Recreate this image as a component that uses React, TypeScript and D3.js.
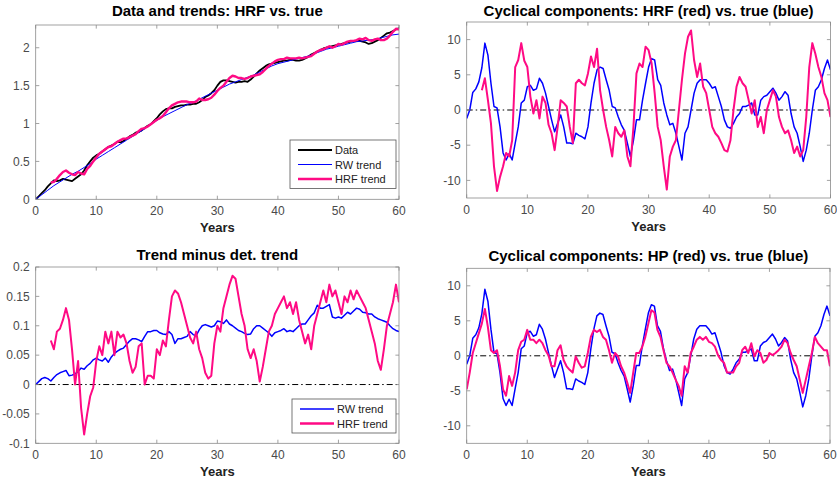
import React from "react";
import * as d3 from "d3";

// ---- data (years on the x axis) ----
const yearTicks = [0, 10, 20, 30, 40, 50, 60];

// observed data, 0..60 every half year
const dataSeries = [
  0, 0.04, 0.08, 0.12, 0.17, 0.21, 0.25, 0.24, 0.25, 0.27,
  0.26, 0.25, 0.24, 0.27, 0.3, 0.33, 0.38, 0.45, 0.5, 0.55,
  0.58, 0.6, 0.63, 0.66, 0.69, 0.71, 0.73, 0.76, 0.75, 0.77,
  0.8, 0.83, 0.85, 0.88, 0.89, 0.91, 0.94, 0.97, 0.99, 1.03,
  1.07, 1.12, 1.16, 1.19, 1.2, 1.2, 1.22, 1.23, 1.24, 1.24,
  1.25, 1.25, 1.26, 1.26, 1.28, 1.31, 1.35, 1.37, 1.4, 1.44,
  1.5, 1.55, 1.57, 1.57, 1.56, 1.55, 1.54, 1.55, 1.55, 1.56,
  1.55, 1.58, 1.62, 1.66, 1.7, 1.73, 1.76, 1.78, 1.79, 1.8,
  1.81, 1.82, 1.83, 1.83, 1.84, 1.84, 1.83, 1.83, 1.84, 1.86,
  1.88, 1.91, 1.93, 1.95, 1.97, 1.99, 2.0, 2.01, 2.02, 2.03,
  2.04, 2.05, 2.06, 2.07, 2.08, 2.09, 2.09, 2.09, 2.08, 2.07,
  2.05, 2.06, 2.08, 2.1, 2.13, 2.16, 2.19, 2.2, 2.22, 2.24,
  2.26,
];

// RW trend, 0..60 every year
const rwTrend = [
  0, 0.06, 0.12, 0.18, 0.23, 0.28, 0.33, 0.37, 0.42, 0.47,
  0.53, 0.58, 0.63, 0.68, 0.73, 0.78, 0.83, 0.88, 0.93, 0.99,
  1.04, 1.09, 1.13, 1.17, 1.21, 1.25, 1.28, 1.32, 1.36, 1.4,
  1.44, 1.48, 1.52, 1.55, 1.58, 1.61, 1.64, 1.68, 1.72, 1.76,
  1.79, 1.81, 1.83, 1.85, 1.87, 1.89, 1.92, 1.95, 1.98, 2.0,
  2.02, 2.04, 2.06, 2.08, 2.09, 2.1, 2.11, 2.13, 2.15, 2.17,
  2.18,
];

// HRF trend, 2.5..60 every half year
const hrfTrend = [
  0.22, 0.23, 0.27, 0.32, 0.36,
  0.38, 0.35, 0.33, 0.32, 0.36, 0.34, 0.33, 0.4, 0.44, 0.5,
  0.55, 0.6, 0.63, 0.66, 0.69, 0.7, 0.73, 0.76, 0.78, 0.8,
  0.8, 0.82, 0.84, 0.86, 0.9, 0.93, 0.94, 0.96, 0.99, 1.02,
  1.05, 1.07, 1.1, 1.15, 1.2, 1.24, 1.26, 1.28, 1.29, 1.29,
  1.29, 1.28, 1.28, 1.29, 1.33, 1.31, 1.31, 1.32, 1.34, 1.38,
  1.43, 1.47, 1.5, 1.55, 1.6, 1.63, 1.62, 1.6, 1.6, 1.59,
  1.6, 1.62, 1.63, 1.64, 1.65, 1.68, 1.72, 1.76, 1.79, 1.82,
  1.84, 1.85, 1.85, 1.87, 1.86, 1.86, 1.86, 1.87, 1.86, 1.87,
  1.88, 1.89, 1.92, 1.95, 1.97, 1.98, 2.0, 2.02, 2.0, 2.02,
  2.05, 2.04, 2.06, 2.08, 2.09, 2.09, 2.1, 2.12, 2.11, 2.13,
  2.1, 2.09, 2.11, 2.12, 2.1, 2.1, 2.12, 2.16, 2.21, 2.25,
  2.24,
];

// true cycle, 0..60 every half year
const cycleTrue = [
  -1.2, 0, 2.5, 3, 4, 6, 9.5, 7.8, 3.8, 0.5,
  0.3, -2.4, -6.1, -7.1, -6.2, -7.1, -4.7, -2.4, 1, 1.4,
  3.3, 3.5, 2.8, 3, 4.5, 3.8, 2.4, 0.5, -1.4, -3.1,
  -1.9, -0.7, -2.4, -4.7, -4.7, -4.8, -3.3, -3.6, -3.8, -4.1,
  -2.4, 1, 3.8, 5.7, 6.1, 5.9, 4.3, 2.8, 0.5, 0.3,
  -1, -2.1, -2.9, -4.7, -6.6, -4.3, -1.4, -1.4, 1.4, 3.8,
  6.1, 7.3, 7.1, 4.3, 3.5, 1, -0.7, -2.1, -1.9, -3.3,
  -5.2, -7.1, -3.3, -2.4, 0, 2.4, 3.8, 4.3, 4.3, 4.3,
  3.8, 3.1, 3.3, 1.9, 0.5, -1.4, -2.4, -2.6, -1.9, -1,
  -0.5, 0.5, 0.5, 0.7, 1, -0.7, -0.7, 1.4, 1.9, 2.1,
  2.6, 3.1, 2.4, 1.4, 1.9, 2.6, 2.1, -0.5, -2.4, -3.3,
  -5.2, -7.3, -5.7, -3.3, 0, 2.8, 3.3, 4.3, 5.9, 7.1,
  5.7,
];

// HRF cycle, 2.5..60 every half year
const cycleHRF = [
  2.8, 4.5, 1.4, -1.9, -8,
  -11.5, -9.5, -8, -6.1, -6.6, -4.3, 6.1, 7.1, 9.5, 7,
  6.1, 1.9, -0.5, 1.4, -1.2, 1.9, 1, -2.1, -3.3, -5.7,
  -2.4, 1.4, 1, 0.5, -2.4, -4.7, 3.8, 4.3, 3.8, 3.5,
  5.2, 7.6, 6.1, 8.7, 2.8, 0, -2.4, -4.3, -6.6, -2.4,
  -3.3, -3.8, -2.9, -6.6, -8, -2.4, 5.2, 6.6, 6.1, 9,
  8.5, 6.6, 2.4, -2.4, -4.3, -8, -11.3, -6.6, -5.2, -4.3,
  0, 4.3, 8, 10.4, 11.3, 7.1, 4.7, 6.6, 3.3, 2.4,
  0, -2.4, -3.3, -3.8, -4.7, -5.7, -5.9, -4.3, 0, 3.3,
  4.7, 3.8, 3.3, 1.4, -0.5, 1.4, -2.4, -1, -3.3, 0,
  1.4, 2.8, 1.9, -1, -2.4, -3.3, -2.9, -4.3, -6.1, -5.2,
  -6.6, -5.7, -1, 6.1, 9.5, 8, 6.1, 4.7, 2.4, 1.4,
  -1,
];

// HP cycle, 0..60 every half year
const cycleHP = [
  -4.8, -2.4, 0.4, 1.8, 3.2, 4.6, 6.7, 4.1, 0.8, 0.4,
  0.8, -1.5, -4.8, -5.7, -2.9, -4.3, -2.4, 0.8, 2, 2.3,
  3.7, 2.3, 2.3, 1.8, 2.3, 1.8, 0.8, 0.1, -1.5, -1.5,
  0.8, 1.5, -0.6, -1.5, -2, -2.4, -0.1, -1, -1.7, -1.5,
  0.4, 2.7, 3.7, 3.4, 3.7, 2.7, 2.3, 0.8, -1, 0.4,
  -0.1, -1.5, -2.4, -3.8, -5.3, -2.4, 0.4, 0.4, 1.3, 2.7,
  4.6, 6.5, 6.2, 3.7, 2.7, 0.8, -1, -1.5, -2.4, -3.4,
  -4.3, -5.7, -1.5, -2.4, 0.4, 1.3, 2.3, 2.7, 2.3, 2.7,
  2, 1.8, 1.3, 0.1, -0.6, -1, -2.4, -2.4, -2.4, -1.5,
  -1, 0.8, 1.3, 0.4, 1.8, -0.1, 0.8, 0.4, -1, -0.6,
  0.4, 0.1, 0.4, 0.8, 1.3, 2.3, 1.8, 0.4, -0.6, -1.5,
  -3.4, -5.3, -3.4, -1.5, 0.4, 2.7, 1.8, 1.3, 0.8, 0.8,
  -1.5,
];

// RW trend minus deterministic trend, 0..60 every half year
const rwDev = [
  0, 0.005, 0.01, 0.012, 0.01, 0.006, 0.012, 0.017, 0.02, 0.022,
  0.024, 0.015, 0.016, 0.018, 0.022, 0.028, 0.026, 0.032, 0.036, 0.042,
  0.045, 0.042, 0.04, 0.045, 0.038, 0.047, 0.053, 0.057, 0.06, 0.062,
  0.068, 0.074, 0.078, 0.078, 0.076, 0.073, 0.082, 0.09, 0.09, 0.092,
  0.092, 0.088, 0.086, 0.085, 0.09, 0.085, 0.07, 0.078, 0.078, 0.08,
  0.082, 0.09, 0.085, 0.083, 0.093, 0.1, 0.102, 0.1, 0.098, 0.1,
  0.108, 0.107, 0.104, 0.11, 0.103, 0.1, 0.096, 0.092, 0.09, 0.087,
  0.085, 0.086, 0.095, 0.1, 0.1, 0.096, 0.092, 0.088, 0.082, 0.088,
  0.09, 0.092, 0.095, 0.09, 0.092, 0.09, 0.095, 0.1, 0.103, 0.103,
  0.11, 0.117, 0.122, 0.135, 0.13, 0.13, 0.133, 0.136, 0.115, 0.113,
  0.115, 0.113, 0.118, 0.123, 0.12, 0.125, 0.13, 0.128, 0.123, 0.122,
  0.12, 0.12, 0.115, 0.112, 0.11, 0.108, 0.106, 0.1, 0.095, 0.092,
  0.09,
];

// HRF trend minus deterministic trend, 2.5..60 every half year
const hrfDev = [
  0.075, 0.06, 0.09, 0.095, 0.11,
  0.13, 0.11, 0.06, 0.0, 0.04, -0.04, -0.085, -0.05, -0.02, -0.005,
  0.04, 0.065, 0.05, 0.09, 0.07, 0.09, 0.05, 0.09, 0.08, 0.085,
  0.07, 0.04, 0.02, 0.03, 0.065, 0.07, 0.0, 0.015, 0.015, 0.01,
  0.06, 0.05, 0.075, 0.065, 0.11, 0.15, 0.16, 0.155, 0.14, 0.12,
  0.1, 0.08, 0.07, 0.09, 0.06, 0.045, 0.02, 0.01, 0.015, 0.07,
  0.1, 0.09, 0.13, 0.15, 0.17, 0.185, 0.18, 0.15, 0.12, 0.1,
  0.06, 0.045, 0.06, 0.04, 0.005, 0.03, 0.06, 0.09, 0.1, 0.12,
  0.13, 0.14, 0.15, 0.13, 0.14, 0.12, 0.14, 0.11, 0.09, 0.07,
  0.085, 0.06, 0.1, 0.12, 0.14, 0.16, 0.14, 0.17, 0.15, 0.16,
  0.14, 0.12, 0.15, 0.14, 0.16, 0.145, 0.16, 0.15, 0.14, 0.13,
  0.11, 0.09, 0.07, 0.04, 0.025, 0.06, 0.1, 0.12, 0.14, 0.17,
  0.14,
];

const BLUE = "#0000ff";
const PINK = "#ff0a84";
const AXIS = "#8a8a8a";
const LABEL = "#4a4a4a";
const FONT = "Liberation Sans, Arial, Helvetica, sans-serif";

type Series = { values: number[]; start: number; step: number; color: string; width: number };
type Legend = { x: number; y: number; w: number; items: { label: string; color: string; width: number }[] };

const toPoints = (s: Series) => s.values.map((v, i) => [s.start + i * s.step, v] as [number, number]);

function Panel(props: {
  left: number; right: number; top: number; bottom: number; titleY: number;
  yDomain: [number, number]; yTicks: number[]; title: string;
  series: Series[]; zero?: boolean; legend?: Legend;
}) {
  const { left, right, top, bottom, titleY, yDomain, yTicks, title, series, zero, legend } = props;
  const x = d3.scaleLinear().domain([0, 60]).range([left, right]);
  const y = d3.scaleLinear().domain(yDomain).range([bottom, top]);
  const line = d3.line<[number, number]>().x(d => x(d[0])).y(d => y(d[1]));
  const tl = 3.6;
  const cx = (left + right) / 2;
  const clipId = "clip" + Math.round(left) + "_" + Math.round(top);

  return (
    <g>
      <defs>
        <clipPath id={clipId}>
          <rect x={left} y={top} width={right - left} height={bottom - top} />
        </clipPath>
      </defs>
      <rect x={left} y={top} width={right - left} height={bottom - top} fill="#fff" />
      {zero && (
        <line x1={left} x2={right} y1={y(0)} y2={y(0)} stroke="#000" strokeWidth={1}
          strokeDasharray="6,3,1.5,3" />
      )}
      <g clipPath={`url(#${clipId})`}>
        {series.map((s, i) => (
          <path key={i} d={line(toPoints(s)) || ""} fill="none" stroke={s.color}
            strokeWidth={s.width} strokeLinejoin="round" />
        ))}
      </g>
      <rect x={left} y={top} width={right - left} height={bottom - top} fill="none" stroke={AXIS} strokeWidth={0.8} />
      {yearTicks.map(t => (
        <g key={"x" + t}>
          <line x1={x(t)} x2={x(t)} y1={bottom} y2={bottom - tl} stroke={AXIS} strokeWidth={0.8} />
          <line x1={x(t)} x2={x(t)} y1={top} y2={top + tl} stroke={AXIS} strokeWidth={0.8} />
          <text x={x(t)} y={bottom + 15.5} textAnchor="middle" fontSize={12} fill={LABEL} fontFamily={FONT}>{t}</text>
        </g>
      ))}
      {yTicks.map(t => (
        <g key={"y" + t}>
          <line x1={left} x2={left + tl} y1={y(t)} y2={y(t)} stroke={AXIS} strokeWidth={0.8} />
          <line x1={right} x2={right - tl} y1={y(t)} y2={y(t)} stroke={AXIS} strokeWidth={0.8} />
          <text x={left - 6} y={y(t) + 4.2} textAnchor="end" fontSize={12} fill={LABEL} fontFamily={FONT}>{String(t)}</text>
        </g>
      ))}
      <text x={cx} y={titleY} textAnchor="middle" fontSize={15} fontWeight="bold" fill="#000" fontFamily={FONT}>{title}</text>
      <text x={cx} y={bottom + 33} textAnchor="middle" fontSize={13} fontWeight="bold" fill="#222" fontFamily={FONT}>Years</text>
      {legend && (
        <g>
          <rect x={legend.x} y={legend.y} width={legend.w} height={legend.items.length * 14.5 + 5}
            fill="#fff" stroke="#555" strokeWidth={0.8} />
          {legend.items.map((it, i) => {
            const ly = legend.y + 10 + i * 14.5;
            return (
              <g key={it.label}>
                <line x1={legend.x + 8} x2={legend.x + 42} y1={ly} y2={ly} stroke={it.color} strokeWidth={it.width} />
                <text x={legend.x + 45} y={ly + 4} fontSize={11} fill="#222" fontFamily={FONT}>{it.label}</text>
              </g>
            );
          })}
        </g>
      )}
    </g>
  );
}

export default function App() {
  return (
    <svg width={837} height={485} style={{ display: "block", position: "absolute", left: 0, top: 0 }}>
      <rect width={837} height={485} fill="#fff" />
      <Panel left={35.7} right={399} top={25} bottom={199.3} titleY={15.5} yDomain={[0, 2.3]}
        yTicks={[0, 0.5, 1, 1.5, 2]} title="Data and trends: HRF vs. true"
        series={[
          { values: dataSeries, start: 0, step: 0.5, color: "#000", width: 1.8 },
          { values: rwTrend, start: 0, step: 1, color: BLUE, width: 1 },
          { values: hrfTrend, start: 2.5, step: 0.5, color: PINK, width: 2.4 },
        ]}
        legend={{ x: 290, y: 140, w: 106, items: [
          { label: "Data", color: "#000", width: 1.8 },
          { label: "RW trend", color: BLUE, width: 1 },
          { label: "HRF trend", color: PINK, width: 2.4 },
        ] }}
      />
      <Panel left={466.7} right={830.5} top={22} bottom={198} titleY={15.5} yDomain={[-12.5, 12.5]}
        yTicks={[-10, -5, 0, 5, 10]} title="Cyclical components: HRF (red) vs. true (blue)" zero
        series={[
          { values: cycleTrue, start: 0, step: 0.5, color: BLUE, width: 1.5 },
          { values: cycleHRF, start: 2.5, step: 0.5, color: PINK, width: 2 },
        ]}
      />
      <Panel left={35.7} right={399} top={267} bottom={443.3} titleY={260} yDomain={[-0.1, 0.2]}
        yTicks={[-0.1, -0.05, 0, 0.05, 0.1, 0.15, 0.2]} title="Trend minus det. trend" zero
        series={[
          { values: rwDev, start: 0, step: 0.5, color: BLUE, width: 1.5 },
          { values: hrfDev, start: 2.5, step: 0.5, color: PINK, width: 2 },
        ]}
        legend={{ x: 292, y: 399, w: 104, items: [
          { label: "RW trend", color: BLUE, width: 1.5 },
          { label: "HRF trend", color: PINK, width: 2.4 },
        ] }}
      />
      <Panel left={466.7} right={830} top={268.3} bottom={443.3} titleY={260.5} yDomain={[-12.5, 12.5]}
        yTicks={[-10, -5, 0, 5, 10]} title="Cyclical components: HP (red) vs. true (blue)" zero
        series={[
          { values: cycleTrue, start: 0, step: 0.5, color: BLUE, width: 1.5 },
          { values: cycleHP, start: 0, step: 0.5, color: PINK, width: 2 },
        ]}
      />
    </svg>
  );
}
